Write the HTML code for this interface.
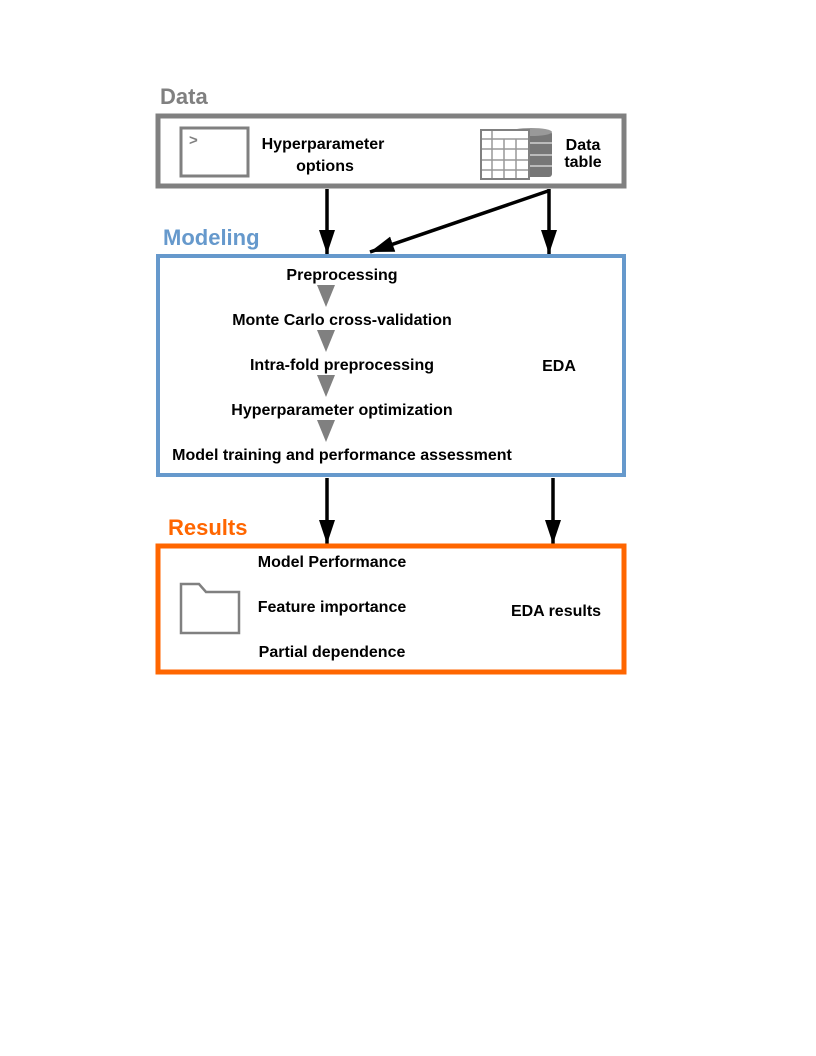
<!DOCTYPE html>
<html><head><style>body{margin:0;background:#fff}svg{display:block}text{font-family:"Liberation Sans",sans-serif;font-weight:bold}</style></head>
<body>
<svg width="816" height="1056" viewBox="0 0 816 1056">
<defs>
<marker id="ah" markerWidth="24" markerHeight="18" refX="24" refY="9" orient="auto" markerUnits="userSpaceOnUse" viewBox="0 0 24 18"><path d="M0,1 L24,9 L0,17 z" fill="#000"/></marker>
</defs>
<text x="160" y="104" font-size="22" fill="#808080">Data</text>
<rect x="158" y="116" width="466" height="70" fill="none" stroke="#808080" stroke-width="5"/>
<rect x="181" y="128" width="67" height="48" fill="none" stroke="#808080" stroke-width="3"/>
<text x="189" y="145" font-size="15" fill="#808080" font-weight="normal">&gt;</text>
<text x="323" y="149" font-size="16" text-anchor="middle" fill="#000">Hyperparameter</text>
<text x="325" y="171" font-size="16" text-anchor="middle" fill="#000">options</text>
<g fill="#777">
<rect x="510" y="131" width="42" height="46" rx="3"/>
<ellipse cx="531" cy="132" rx="21" ry="4" fill="#999"/>
</g>
<line x1="515" y1="143" x2="552" y2="143" stroke="#bbb" stroke-width="2"/>
<line x1="515" y1="155" x2="552" y2="155" stroke="#bbb" stroke-width="2"/>
<line x1="515" y1="166" x2="552" y2="166" stroke="#bbb" stroke-width="2"/>
<rect x="481" y="130" width="48" height="49" fill="#fff" stroke="#808080" stroke-width="2"/>
<g stroke="#999" stroke-width="1.5">
<line x1="482" y1="139" x2="528" y2="139"/><line x1="482" y1="149" x2="528" y2="149"/><line x1="482" y1="160" x2="528" y2="160"/><line x1="482" y1="170" x2="528" y2="170"/>
<line x1="492" y1="131" x2="492" y2="178"/><line x1="504" y1="139" x2="504" y2="178"/><line x1="516" y1="139" x2="516" y2="178"/>
</g>
<text x="583" y="150" font-size="16" text-anchor="middle" fill="#000">Data</text>
<text x="583" y="167" font-size="16" text-anchor="middle" fill="#000">table</text>
<g stroke="#000" stroke-width="3.5" marker-end="url(#ah)">
<line x1="327" y1="189" x2="327" y2="254"/>
<line x1="549" y1="189" x2="549" y2="254"/>
<line x1="548" y1="191" x2="370" y2="252"/>
<line x1="327" y1="478" x2="327" y2="544"/>
<line x1="553" y1="478" x2="553" y2="544"/>
</g>
<text x="163" y="245" font-size="22" fill="#6699cc">Modeling</text>
<rect x="158" y="256" width="466" height="219" fill="none" stroke="#6699cc" stroke-width="4"/>
<g font-size="16" text-anchor="middle" fill="#000">
<text x="342" y="280">Preprocessing</text>
<text x="342" y="325">Monte Carlo cross-validation</text>
<text x="342" y="370">Intra-fold preprocessing</text>
<text x="342" y="415">Hyperparameter optimization</text>
<text x="342" y="460">Model training and performance assessment</text>
<text x="559" y="371">EDA</text>
</g>
<g fill="#808080">
<path d="M317,285 L335,285 L326,307z"/>
<path d="M317,330 L335,330 L326,352z"/>
<path d="M317,375 L335,375 L326,397z"/>
<path d="M317,420 L335,420 L326,442z"/>
</g>
<text x="168" y="535" font-size="22" fill="#ff6600">Results</text>
<rect x="158" y="546" width="466" height="126" fill="none" stroke="#ff6600" stroke-width="5"/>
<path d="M181,633 L181,584 L199,584 L206,592 L239,592 L239,633 z" fill="none" stroke="#808080" stroke-width="2.5"/>
<g font-size="16" text-anchor="middle" fill="#000">
<text x="332" y="567">Model Performance</text>
<text x="332" y="612">Feature importance</text>
<text x="332" y="657">Partial dependence</text>
<text x="556" y="616">EDA results</text>
</g>
</svg>
</body></html>
